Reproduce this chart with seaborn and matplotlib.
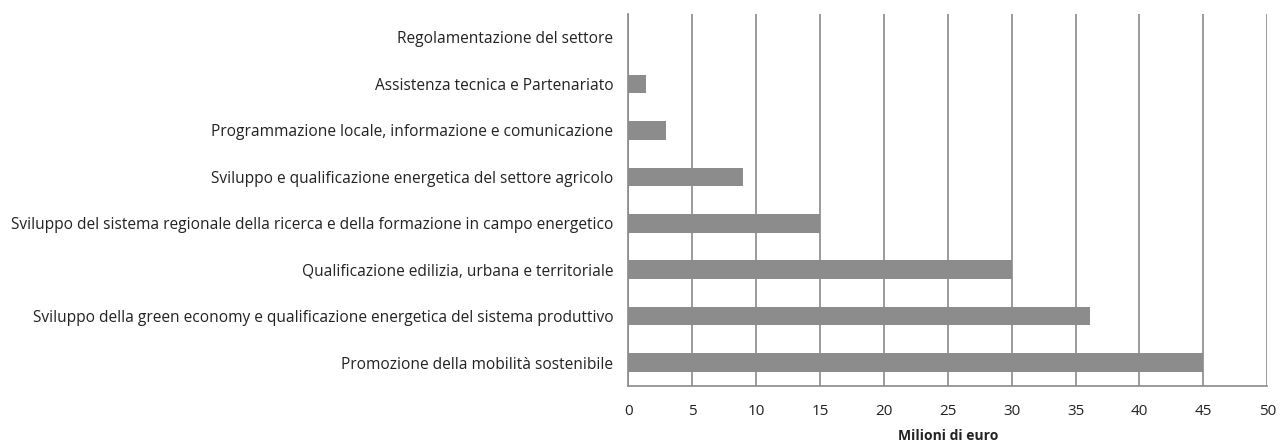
import matplotlib
matplotlib.use("Agg")
import matplotlib.pyplot as plt
import seaborn as sns
import pandas as pd

categories = [
    "Regolamentazione del settore",
    "Assistenza tecnica e Partenariato",
    "Programmazione locale, informazione e comunicazione",
    "Sviluppo e qualificazione energetica del settore agricolo",
    "Sviluppo del sistema regionale della ricerca e della formazione in campo energetico",
    "Qualificazione edilizia, urbana e territoriale",
    "Sviluppo della green economy e qualificazione energetica del sistema produttivo",
    "Promozione della mobilità sostenibile",
]
values = [0, 1.4, 2.9, 9.0, 15.0, 30.0, 36.1, 45.0]
xticks = [0, 5, 10, 15, 20, 25, 30, 35, 40, 45, 50]

df = pd.DataFrame({"cat": categories, "val": values})

sns.set_theme(style="white")
plt.rcParams["font.family"] = ["Open Sans", "DejaVu Sans"]

fig = plt.figure(figsize=(12.8, 4.44), dpi=100)
ax = fig.add_axes([0.491, 0.131, 0.499, 0.837])

sns.barplot(data=df, x="val", y="cat", orient="h", color="#8c8c8c",
            width=0.4, saturation=1, linewidth=0, ax=ax, zorder=3)

ax.set_xlim(0, 50)
ax.set_xticks(xticks)
ax.set_xticklabels([str(t) for t in xticks], fontsize=11, color="#222222")
ax.grid(axis="x", color="#8a8a8a", linewidth=1.2, zorder=0)
ax.set_axisbelow(True)
ax.tick_params(axis="y", length=0, labelsize=11.2, labelcolor="#222222", pad=11)
ax.tick_params(axis="x", length=5, width=1.2, color="#8a8a8a", pad=8)
for s in ["top", "right"]:
    ax.spines[s].set_visible(False)
ax.spines["left"].set_color("#8a8a8a")
ax.spines["left"].set_linewidth(1.2)
ax.spines["bottom"].set_color("#8a8a8a")
ax.spines["bottom"].set_linewidth(1.2)
ax.set_ylabel("")
ax.set_xlabel("Milioni di euro", fontsize=10, fontweight="bold", color="#222222", labelpad=7)

fig.savefig("out.png", dpi=100, facecolor="white")
